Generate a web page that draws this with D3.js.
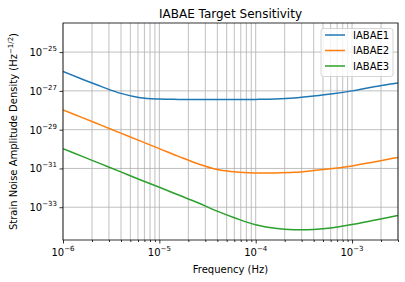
<!DOCTYPE html>
<html><head><meta charset="utf-8">
<script src="https://cdn.jsdelivr.net/npm/d3@7"></script>
<style>body{margin:0;background:#fff}svg{display:block;font-family:"DejaVu Sans",sans-serif}</style>
</head><body><svg id="c" width="405" height="282"></svg>
<script>
const freqs = [1e-6,1.585e-6,2.512e-6,3.981e-6,6.31e-6,1e-5,1.585e-5,2.512e-5,3.981e-5,6.31e-5,1e-4,1.585e-4,2.512e-4,3.981e-4,6.31e-4,1e-3,1.585e-3,2.512e-3,3e-3];
const iabae1 = [1.0e-26,3.98e-27,1.66e-27,7.41e-28,4.47e-28,3.80e-28,3.63e-28,3.55e-28,3.55e-28,3.55e-28,3.63e-28,3.80e-28,4.27e-28,5.37e-28,7.08e-28,1.0e-27,1.55e-27,2.24e-27,2.57e-27];
const iabae2 = [1.05e-28,4.17e-29,1.66e-29,6.61e-30,2.63e-30,1.05e-30,4.17e-31,1.74e-31,8.71e-32,6.46e-32,5.89e-32,5.89e-32,6.31e-32,7.76e-32,1.0e-31,1.35e-31,2.04e-31,3.16e-31,3.72e-31];
const iabae3 = [1.05e-30,4.17e-31,1.66e-31,6.61e-32,2.63e-32,1.07e-32,4.27e-33,1.70e-33,6.31e-34,2.63e-34,1.26e-34,8.32e-35,6.92e-35,7.08e-35,8.71e-35,1.29e-34,2.0e-34,3.16e-34,3.80e-34];
const seriesNames = ["IABAE1","IABAE2","IABAE3"];
const colors = ["#1f77b4","#ff7f0e","#2ca02c"];
const xTickExps = [-6,-5,-4,-3];
const yTickExps = [-25,-27,-29,-31,-33];
const title = "IABAE Target Sensitivity";
const xLabel = "Frequency (Hz)";

const svg = d3.select("#c");
const L=63, R=398, T=23, B=240;
const x = d3.scaleLog().domain([1e-6,3e-3]).range([L,R]);
const y = d3.scaleLog().domain([Math.pow(10,-34.69),Math.pow(10,-23.5)]).range([B,T]);

const minor = [];
for (let e=-6;e<=-3;e++) for (let m=2;m<=9;m++){const v=m*Math.pow(10,e); if(v<=3e-3) minor.push(v);}
const g = svg.append("g");
g.selectAll(".gx").data(xTickExps.map(e=>Math.pow(10,e)).concat(minor)).join("line")
  .attr("x1",d=>x(d)).attr("x2",d=>x(d)).attr("y1",T).attr("y2",B)
  .attr("stroke","#b0b0b0").attr("stroke-width",0.8);
g.selectAll(".gy").data(yTickExps.map(e=>Math.pow(10,e))).join("line")
  .attr("x1",L).attr("x2",R).attr("y1",d=>y(d)).attr("y2",d=>y(d))
  .attr("stroke","#b0b0b0").attr("stroke-width",0.8);

const line = d3.line().x((d,i)=>x(freqs[i])).y(d=>y(d)).curve(d3.curveCatmullRom.alpha(0.5));
svg.append("clipPath").attr("id","pc").append("rect").attr("x",L).attr("y",T).attr("width",R-L).attr("height",B-T);
[iabae1,iabae2,iabae3].forEach((s,i)=>{
  svg.append("path").attr("d",line(s)).attr("fill","none").attr("stroke",colors[i]).attr("stroke-width",1.5).attr("clip-path","url(#pc)");
});

const xg = svg.append("g").attr("transform",`translate(0,${B})`).call(d3.axisBottom(x).tickValues(xTickExps.map(e=>Math.pow(10,e))).tickSize(3.5).tickFormat(""));
const xm = svg.append("g").attr("transform",`translate(0,${B})`).call(d3.axisBottom(x).tickValues(minor).tickSize(2).tickFormat(""));
const yg = svg.append("g").attr("transform",`translate(${L},0)`).call(d3.axisLeft(y).tickValues(yTickExps.map(e=>Math.pow(10,e))).tickSize(3.5).tickFormat(""));
[xg,xm,yg].forEach(a=>{a.select(".domain").remove();a.selectAll("line").attr("stroke","#000").attr("stroke-width",0.8);});
svg.append("rect").attr("x",L).attr("y",T).attr("width",R-L).attr("height",B-T).attr("fill","none").attr("stroke","#000").attr("stroke-width",0.8);

function pow10(sel, e){
  sel.append("tspan").text("10");
  sel.append("tspan").attr("dy",-5).attr("font-size",7).text("\u2212"+Math.abs(e));
}
xTickExps.forEach(e=>{
  const t = svg.append("text").attr("x",x(Math.pow(10,e))).attr("y",B+16).attr("text-anchor","middle").attr("font-size",10).attr("fill","#000");
  pow10(t,e);
});
yTickExps.forEach(e=>{
  const t = svg.append("text").attr("x",L-6).attr("y",y(Math.pow(10,e))+4).attr("text-anchor","end").attr("font-size",10).attr("fill","#000");
  pow10(t,e);
});

svg.append("text").attr("x",(L+R)/2).attr("y",18).attr("text-anchor","middle").attr("font-size",12).text(title);
svg.append("text").attr("x",(L+R)/2).attr("y",273).attr("text-anchor","middle").attr("font-size",10).text(xLabel);
const yl = svg.append("text").attr("transform",`translate(17,${(T+B)/2}) rotate(-90)`).attr("text-anchor","middle").attr("font-size",10);
yl.append("tspan").text("Strain Noise Amplitude Density (Hz");
yl.append("tspan").attr("dy",-4).attr("font-size",7).text("\u22121/2");
yl.append("tspan").attr("dy",4).text(")");

const lg = svg.append("g");
lg.append("rect").attr("x",321).attr("y",28.5).attr("width",72).attr("height",48).attr("rx",2.5)
  .attr("fill","#fff").attr("fill-opacity",0.8).attr("stroke","#cccccc").attr("stroke-width",0.8);
seriesNames.forEach((n,i)=>{
  const yy = 35+i*15.5;
  lg.append("line").attr("x1",325).attr("x2",345).attr("y1",yy).attr("y2",yy).attr("stroke",colors[i]).attr("stroke-width",1.5);
  lg.append("text").attr("x",353).attr("y",yy+3.6).attr("font-size",10).text(n);
});
</script></body></html>
